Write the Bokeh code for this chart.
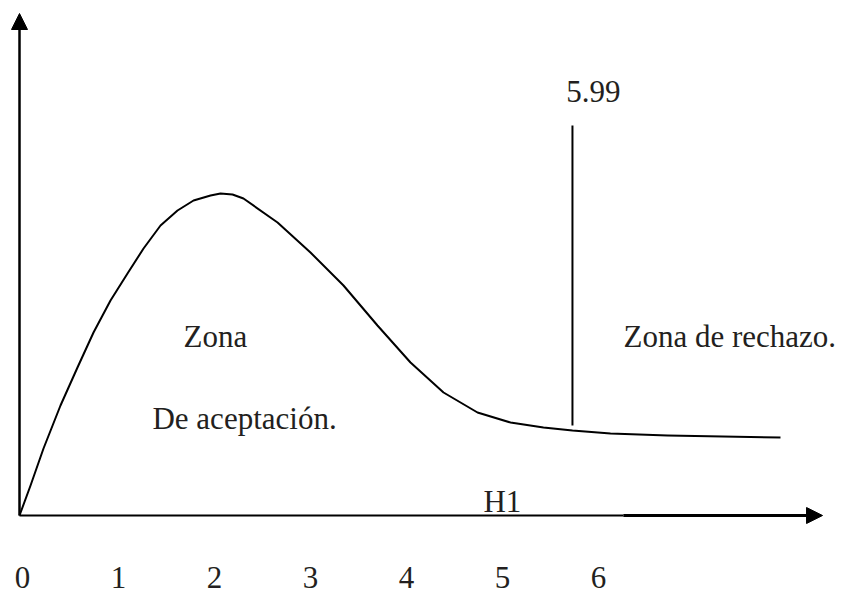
from bokeh.plotting import figure
from bokeh.models import ColumnDataSource, Arrow, NormalHead, Range1d
from bokeh.core.properties import value
from bokeh.embed import file_html
from bokeh.resources import INLINE

# ---- data ----
tick_values = [0, 1, 2, 3, 4, 5, 6]
tick_labels = ["0", "1", "2", "3", "4", "5", "6"]

curve_x = [0.0, 0.115, 0.25, 0.427, 0.604, 0.771, 0.948, 1.125, 1.292, 1.469,
           1.646, 1.813, 1.990, 2.094, 2.219, 2.333, 2.688, 3.031, 3.375, 3.729,
           4.073, 4.417, 4.771, 5.115, 5.458, 5.760, 6.156, 6.75, 7.927]
curve_y = [0.0, 0.30, 0.67, 1.10, 1.48, 1.83, 2.15, 2.42, 2.67, 2.90,
           3.05, 3.15, 3.20, 3.22, 3.21, 3.17, 2.93, 2.63, 2.30, 1.90,
           1.53, 1.23, 1.03, 0.93, 0.88, 0.85, 0.82, 0.80, 0.78]

critical_label = "5.99"
critical_x = 5.76          # where the boundary is drawn in the sketch
critical_y = [0.90, 3.90]  # bottom / top of the boundary line

zone_texts = ["Zona", "De aceptación.", "Zona de rechazo.", "H1"]
zone_x = [1.708, 1.385, 6.292, 4.833]
zone_y = [1.67, 0.85, 1.67, 0.02]

x_axis_end = 8.365
x_axis_split = 6.29
y_axis_end = 5.02

# ---- figure ----
W, H = 845, 596
p = figure(width=W, height=H, output_backend="svg", toolbar_location=None,
           x_range=Range1d(-0.197917, 8.604167), y_range=Range1d(-0.81, 5.15),
           x_axis_location=None, y_axis_location=None, min_border=0)
p.grid.visible = False
p.outline_line_color = None
p.background_fill_color = "white"
p.border_fill_color = "white"

FONT = value("Liberation Serif")
TXT_COLOR = "#231f20"
LIFT = 0.12  # compensates the renderer's baseline placement

# axes drawn as arrows
p.segment(x0=[0], y0=[0], x1=[x_axis_split], y1=[0], line_color="black", line_width=2)
p.add_layout(Arrow(end=NormalHead(size=16, fill_color="black", line_color="black", line_width=1),
                   x_start=x_axis_split, y_start=0, x_end=x_axis_end, y_end=0,
                   line_color="black", line_width=3))
p.add_layout(Arrow(end=NormalHead(size=16, fill_color="black", line_color="black", line_width=1),
                   x_start=0, y_start=0, x_end=0, y_end=y_axis_end,
                   line_color="black", line_width=2.5))

# curve
p.line(curve_x, curve_y, line_color="black", line_width=2, line_join="round")

# critical boundary
p.segment(x0=[critical_x], y0=[critical_y[0]], x1=[critical_x], y1=[critical_y[1]],
          line_color="black", line_width=2)
p.text(x=[critical_x - 0.065], y=[4.12 + LIFT], text=[critical_label], text_font=FONT,
       text_font_size="31px", text_color=TXT_COLOR, text_baseline="alphabetic",
       text_align="left")

# zone labels
zsrc = ColumnDataSource(dict(x=zone_x, y=[v + LIFT for v in zone_y], t=zone_texts))
p.text(x="x", y="y", text="t", source=zsrc, text_font=FONT, text_font_size="31px",
       text_color=TXT_COLOR, text_baseline="alphabetic", text_align="left")

# tick labels under the axis
tsrc = ColumnDataSource(dict(x=tick_values, y=[-0.74 + LIFT] * len(tick_values), t=tick_labels))
p.text(x="x", y="y", text="t", source=tsrc, text_font=FONT, text_font_size="31px",
       text_color=TXT_COLOR, text_baseline="alphabetic", text_align="center", x_offset=3)

open("out.html", "w").write(file_html(p, INLINE))
